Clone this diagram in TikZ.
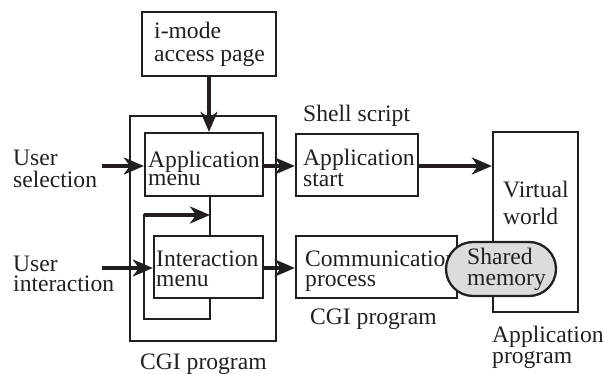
\documentclass[tikz,border=0pt]{standalone}
\usepackage{fontspec}
\setmainfont{Liberation Serif}
\usetikzlibrary{arrows.meta}
\definecolor{ink}{HTML}{231F20}
\definecolor{memfill}{HTML}{DCDCDC}
\begin{document}
\begin{tikzpicture}[x=1pt,y=-1pt,
  box/.style={draw=ink,line width=2.3pt,inner sep=0pt},
  lbl/.style={anchor=base west,inner sep=0pt,text=ink,align=left,font=\fontsize{23.6}{20.5}\selectfont},
  arr/.style={draw=ink,line width=3.4pt,-{Stealth[length=20pt,width=17pt,inset=6pt]}},
  ln/.style={draw=ink,line width=2.4pt}]
\useasboundingbox (0,0) rectangle (603,374);
% boxes
\node[box,minimum width=134pt,minimum height=64pt] (imode) at (209,44) {};
\node[box,minimum width=146pt,minimum height=225pt] (cgi) at (203,228.5) {};
\node[box,minimum width=118pt,minimum height=63pt] (appmenu) at (204,164.5) {};
\node[box,minimum width=109pt,minimum height=62pt] (intmenu) at (208.5,267) {};
\node[box,minimum width=122pt,minimum height=62pt] (appstart) at (357,165) {};
\node[box,minimum width=161pt,minimum height=62pt] (comm) at (376.5,267) {};
\node[box,minimum width=85pt,minimum height=180pt] (vworld) at (535.5,222) {};
% texts (base anchor = baseline of last line)
\node[lbl,font=\fontsize{23.6}{23}\selectfont] (t1) at (154,62) {i-mode\\access page};
\node[lbl,font=\fontsize{23.6}{18.5}\selectfont] (t2) at (148,186) {Application\\menu};
\node[lbl] (t3) at (156,287) {Interaction\\menu};
\node[lbl,font=\fontsize{23.6}{21}\selectfont] (t4) at (303,187) {Application\\start};
\node[lbl] (t5) at (305,287) {Communication\\process};
\node[lbl,font=\fontsize{23.6}{27}\selectfont] (t6) at (503,225) {Virtual\\world};
\node[lbl,font=\fontsize{23.6}{22}\selectfont] (us) at (13,188) {User\\selection};
\node[lbl] (ui) at (13,292) {User\\interaction};
\node[lbl] (shell) at (303,122) {Shell script};
\node[lbl] (cgi2) at (310,325) {CGI program};
\node[lbl] (cgi1) at (140,370) {CGI program};
\node[lbl,font=\fontsize{23.6}{21}\selectfont] (ap) at (492,363) {Application\\program};
% shared memory
\node[box,fill=memfill,rounded corners=27pt,minimum width=110pt,minimum height=54pt] (shmem) at (501,269) {};
\node[lbl,font=\fontsize{23.6}{21}\selectfont] (t7) at (467,286) {Shared\\memory};
% connectors
\coordinate (usel) at (102,166);
\coordinate (uint) at (102,268);
\draw[arr] (imode.south) -- (appmenu.north -| imode.south);
\draw[arr] (usel) -- (usel -| appmenu.west);
\draw[arr] (usel -| appmenu.east) -- (usel -| appstart.west);
\draw[arr] (usel -| appstart.east) -- (usel -| vworld.west);
\draw[arr] (uint) -- (uint -| intmenu.west);
\draw[arr] (uint -| intmenu.east) -- (uint -| comm.west);
\coordinate (lx) at (210,0);
\draw[ln] (appmenu.south -| lx) -- (intmenu.north -| lx);
\coordinate (lb) at (210,319);
\coordinate (lt) at (210,215);
\draw[ln] (intmenu.south -| lx) -- (lb) -- (lb -| appmenu.west) -- (lt -| appmenu.west) -- ++(20,0);
\draw[arr] (lt -| appmenu.west) -- (lt);
\end{tikzpicture}
\end{document}
